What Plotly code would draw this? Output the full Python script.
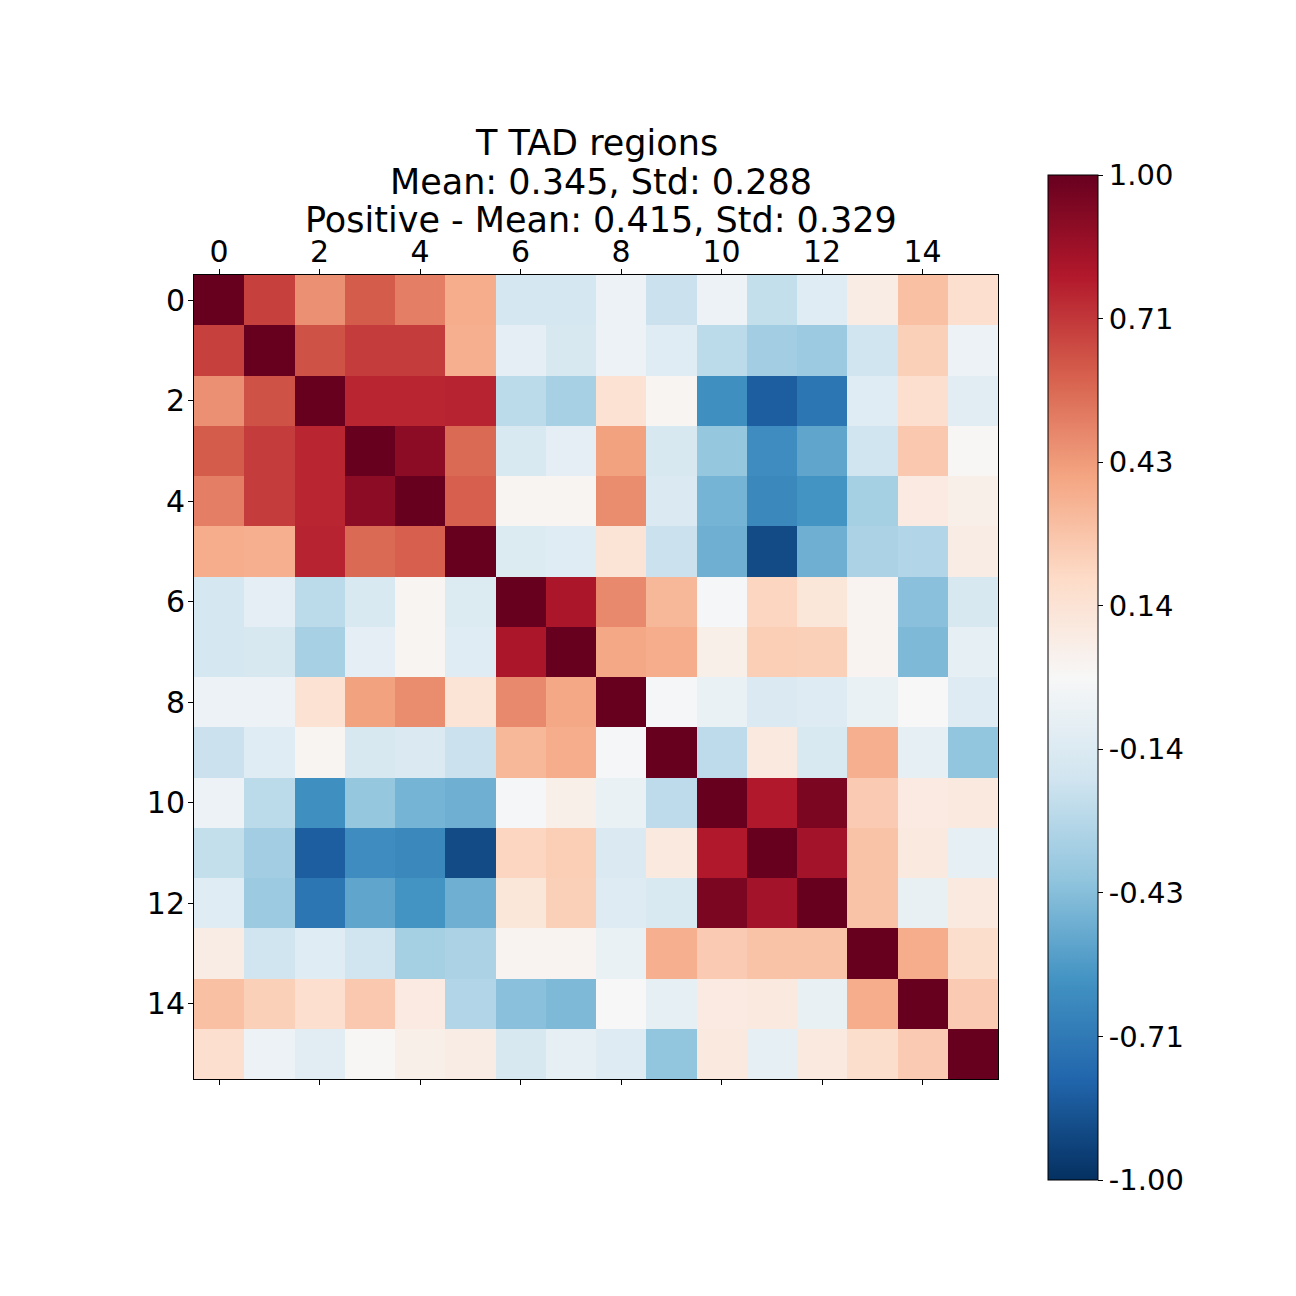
import plotly.graph_objects as go
import numpy as np

labels = list(range(16))
tick_labels = [str(i) for i in range(0, 16, 2)]

corr = [
    [1.00, 0.69, 0.46, 0.61, 0.51, 0.37, -0.18, -0.18, -0.06, -0.22, -0.06, -0.24, -0.12, 0.08, 0.30, 0.17],
    [0.69, 1.00, 0.64, 0.70, 0.70, 0.36, -0.10, -0.17, -0.06, -0.12, -0.27, -0.35, -0.37, -0.20, 0.24, -0.06],
    [0.46, 0.64, 1.00, 0.76, 0.76, 0.77, -0.27, -0.33, 0.15, 0.02, -0.62, -0.83, -0.73, -0.12, 0.17, -0.11],
    [0.61, 0.70, 0.76, 1.00, 0.90, 0.57, -0.16, -0.10, 0.41, -0.17, -0.39, -0.63, -0.53, -0.20, 0.27, 0.01],
    [0.51, 0.70, 0.76, 0.90, 1.00, 0.60, 0.02, 0.02, 0.47, -0.15, -0.47, -0.65, -0.60, -0.34, 0.09, 0.06],
    [0.37, 0.36, 0.77, 0.57, 0.60, 1.00, -0.14, -0.12, 0.14, -0.22, -0.49, -0.90, -0.49, -0.32, -0.30, 0.08],
    [-0.18, -0.10, -0.27, -0.16, 0.02, -0.14, 1.00, 0.82, 0.48, 0.33, -0.01, 0.22, 0.12, 0.03, -0.42, -0.17],
    [-0.18, -0.17, -0.33, -0.10, 0.02, -0.12, 0.82, 1.00, 0.39, 0.37, 0.06, 0.25, 0.24, 0.03, -0.45, -0.09],
    [-0.06, -0.06, 0.15, 0.41, 0.47, 0.14, 0.48, 0.39, 1.00, -0.01, -0.07, -0.15, -0.13, -0.07, 0.00, -0.13],
    [-0.22, -0.12, 0.02, -0.17, -0.15, -0.22, 0.33, 0.37, -0.01, 1.00, -0.26, 0.10, -0.16, 0.36, -0.09, -0.40],
    [-0.06, -0.27, -0.62, -0.39, -0.47, -0.49, -0.01, 0.06, -0.07, -0.26, 1.00, 0.80, 0.95, 0.26, 0.09, 0.10],
    [-0.24, -0.35, -0.83, -0.63, -0.65, -0.90, 0.22, 0.25, -0.15, 0.10, 0.80, 1.00, 0.84, 0.29, 0.10, -0.09],
    [-0.12, -0.37, -0.73, -0.53, -0.60, -0.49, 0.12, 0.24, -0.13, -0.16, 0.95, 0.84, 1.00, 0.29, -0.08, 0.10],
    [0.08, -0.20, -0.12, -0.20, -0.34, -0.32, 0.03, 0.03, -0.07, 0.36, 0.26, 0.29, 0.29, 1.00, 0.37, 0.18],
    [0.30, 0.24, 0.17, 0.27, 0.09, -0.30, -0.42, -0.45, 0.00, -0.09, 0.09, 0.10, -0.08, 0.37, 1.00, 0.26],
    [0.17, -0.06, -0.11, 0.01, 0.06, 0.08, -0.17, -0.09, -0.13, -0.40, 0.10, -0.09, 0.10, 0.18, 0.26, 1.00],
]

title_lines = [
    "T TAD regions",
    "Mean: 0.345, Std: 0.288",
    "Positive - Mean: 0.415, Std: 0.329",
]

cbar_vals = list(np.linspace(-1, 1, 8))
cbar_text = ["%.2f" % v for v in cbar_vals]

rdbu = ['rgb(103,0,31)', 'rgb(178,24,43)', 'rgb(214,96,77)', 'rgb(244,165,130)',
        'rgb(253,219,199)', 'rgb(247,247,247)', 'rgb(209,229,240)', 'rgb(146,197,222)',
        'rgb(67,147,195)', 'rgb(33,102,172)', 'rgb(5,48,97)']
rdbu_r = rdbu[::-1]
colorscale = [[i / (len(rdbu_r) - 1), c] for i, c in enumerate(rdbu_r)]

W = H = 1296
OFF = 8  # page body margin
L, R, T, B = 194, 998, 275, 1079   # target plot area in page pixels
pw = R - L

fig = go.Figure()
fig.add_trace(go.Heatmap(
    z=corr, x=labels, y=labels, zmin=-1, zmax=1, colorscale=colorscale,
    xgap=0, ygap=0,
    colorbar=dict(
        x=(1048 - L) / pw, xanchor="left", xref="paper",
        y=(B - 677.5) / pw, yanchor="middle", yref="paper",
        thickness=50, thicknessmode="pixels",
        len=1005, lenmode="pixels",
        outlinewidth=1, outlinecolor="black",
        tickvals=cbar_vals, ticktext=cbar_text,
        ticks="outside", ticklen=5, tickwidth=1, tickcolor="black",
        tickfont=dict(size=29, color="black", family="DejaVu Sans"),
        xpad=0, ypad=0,
    ),
))
fig.add_trace(go.Scatter(x=[0], y=[0], xaxis="x2", yaxis="y", mode="markers",
                         marker=dict(opacity=0), showlegend=False, hoverinfo="skip"))

fig.update_layout(
    width=W, height=H,
    margin=dict(l=L - OFF, r=W - R + OFF, t=T - OFF, b=H - B + OFF, pad=0),
    paper_bgcolor="white", plot_bgcolor="white",
    font=dict(family="DejaVu Sans", color="black"),
    xaxis=dict(
        side="top", range=[-0.5, 15.5], tickvals=list(range(0, 16, 2)), ticktext=tick_labels,
        ticks="outside", ticklen=5, tickwidth=1, tickcolor="black",
        tickfont=dict(size=30, color="black"), ticklabelstandoff=-5,
        showgrid=False, zeroline=False, showline=True, linecolor="black", linewidth=1,
        mirror=True,
    ),
    xaxis2=dict(
        overlaying="x", side="bottom", range=[-0.5, 15.5], tickvals=list(range(0, 16, 2)),
        showticklabels=False, ticks="outside", ticklen=5, tickwidth=1, tickcolor="black",
        showgrid=False, zeroline=False, showline=False,
    ),
    yaxis=dict(
        range=[15.5, -0.5], tickvals=list(range(0, 16, 2)), ticktext=tick_labels,
        ticks="outside", ticklen=5, tickwidth=1, tickcolor="black",
        tickfont=dict(size=30, color="black"), ticklabelstandoff=-3,
        showgrid=False, zeroline=False, showline=True, linecolor="black", linewidth=1,
        mirror=True,
    ),
)

centers = [143, 182, 220]
xshift = [0, 5, 5]
for txt, yc, xs in zip(title_lines, centers, xshift):
    fig.add_annotation(text=txt, xref="paper", yref="paper", x=0.5, y=(B - yc) / pw,
                       xanchor="center", yanchor="middle", showarrow=False, xshift=xs,
                       font=dict(size=35, color="black", family="DejaVu Sans"))

fig.write_html("out.html")
